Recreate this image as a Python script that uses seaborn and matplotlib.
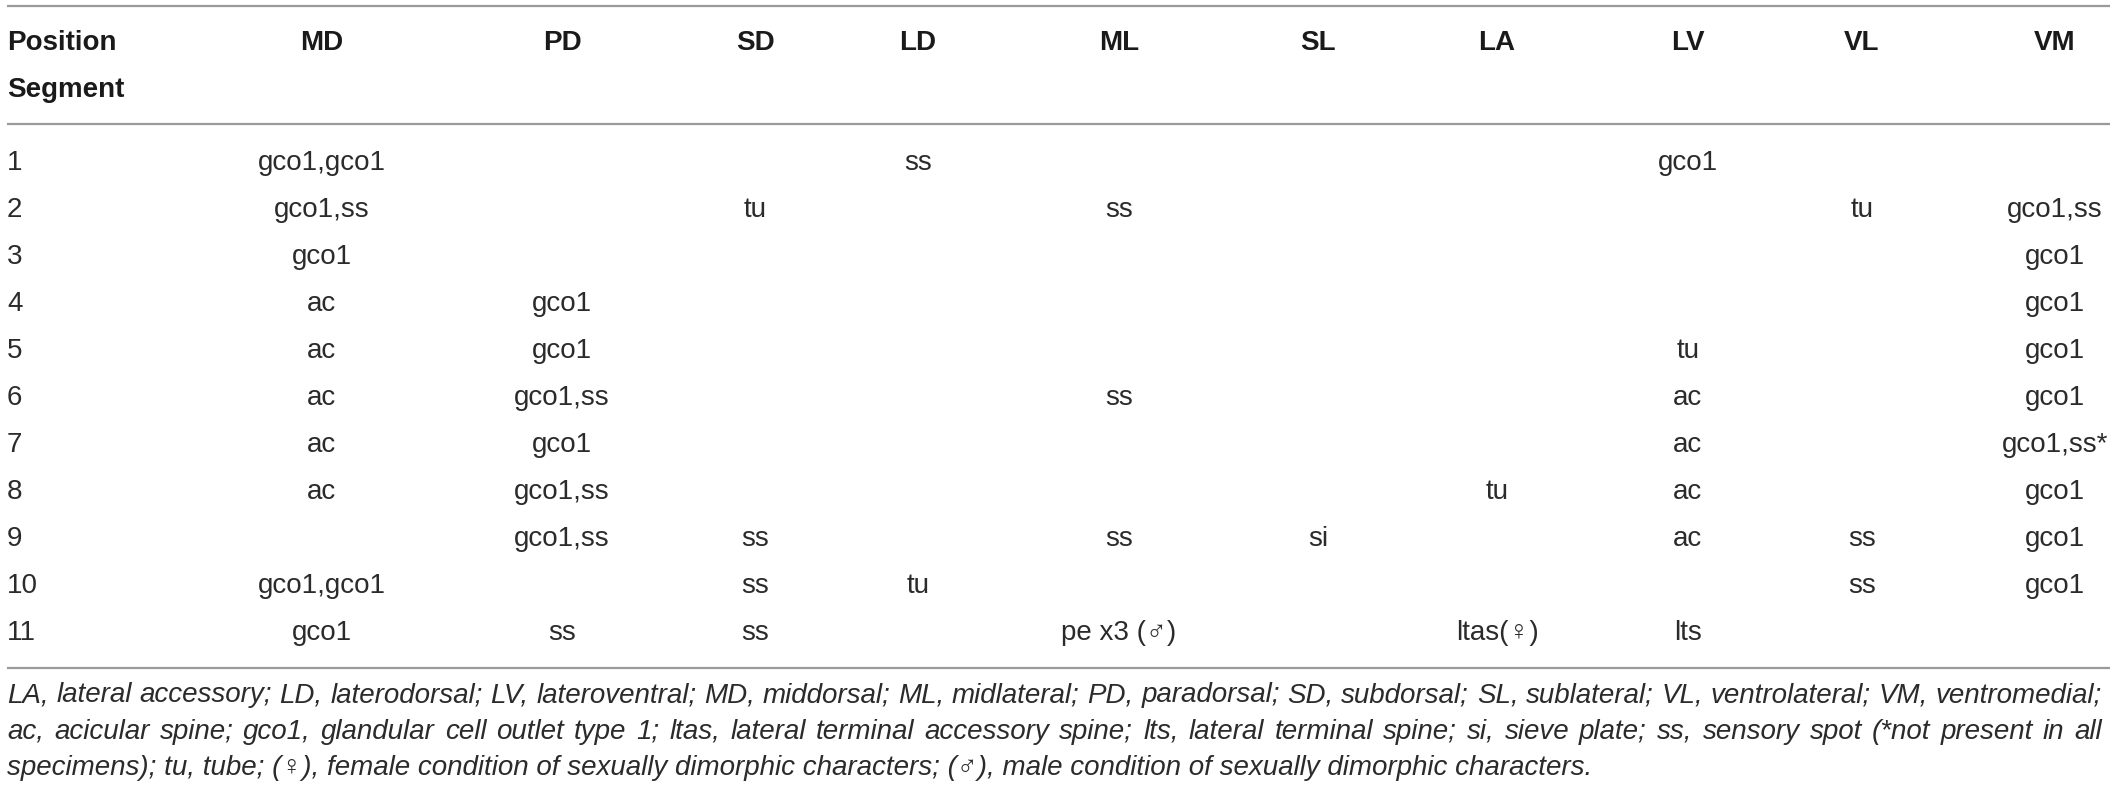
import numpy as np
import pandas as pd
import seaborn as sns
from matplotlib import pyplot as plt

# table content
Columns = ["MD", "PD", "SD", "LD", "ML", "SL", "LA", "LV", "VL", "VM"]
Segments = ["1", "2", "3", "4", "5", "6", "7", "8", "9", "10", "11"]
MD = ["gco1,gco1", "gco1,ss", "gco1", "ac", "ac", "ac", "ac", "ac", "", "gco1,gco1", "gco1"]
PD = ["", "", "", "gco1", "gco1", "gco1,ss", "gco1", "gco1,ss", "gco1,ss", "", "ss"]
SD = ["", "tu", "", "", "", "", "", "", "ss", "ss", "ss"]
LD = ["ss", "", "", "", "", "", "", "", "", "tu", ""]
ML = ["", "ss", "", "", "", "ss", "", "", "ss", "", "pe x3 (\u2642)"]
SL = ["", "", "", "", "", "", "", "", "si", "", ""]
LA = ["", "", "", "", "", "", "", "tu", "", "", "ltas(\u2640)"]
LV = ["gco1", "", "", "", "tu", "ac", "ac", "ac", "ac", "", "lts"]
VL = ["", "tu", "", "", "", "", "", "", "ss", "ss", ""]
VM = ["", "gco1,ss", "gco1", "gco1", "gco1", "gco1", "gco1,ss*", "gco1", "gco1", "gco1", ""]

Footnote = [
    "LA, lateral accessory; LD, laterodorsal; LV, lateroventral; MD, middorsal; ML, midlateral; "
    "PD, paradorsal; SD, subdorsal; SL, sublateral; VL, ventrolateral; VM, ventromedial;",
    "ac, acicular spine; gco1, glandular cell outlet type 1; ltas, lateral terminal accessory spine; "
    "lts, lateral terminal spine; si, sieve plate; ss, sensory spot (*not present in all",
    "specimens); tu, tube; (\u2640), female condition of sexually dimorphic characters; "
    "(\u2642), male condition of sexually dimorphic characters.",
]

df = pd.DataFrame({"MD": MD, "PD": PD, "SD": SD, "LD": LD, "ML": ML, "SL": SL,
                   "LA": LA, "LV": LV, "VL": VL, "VM": VM}, index=Segments)

# layout (pixels)
col_x = [322, 562, 755, 918, 1119, 1318, 1497, 1688, 1862, 2055]
left = 7
right = 2110
row0 = 163
row_step = 47

sns.set_theme(style="white")
fams = ["Liberation Sans", "DejaVu Sans"]
plt.rcParams["font.family"] = fams

fig = plt.figure(figsize=(21.18, 7.93), dpi=100)
ax = fig.add_axes([0, 0, 1, 1])
ax.set_xlim(0, 2118)
ax.set_ylim(793, 0)
ax.axis("off")

line_c = "#9a9a9a"
for y in [6, 124, 668]:
    ax.plot([left, right], [y, y], color=line_c, lw=1.6, solid_capstyle="butt")

head_kw = dict(fontsize=20, fontweight="bold", color="#1a1a1a", va="center")
ax.text(left, 43, "Position", ha="left", **head_kw)
ax.text(left, 90, "Segment", ha="left", **head_kw)
for name, x in zip(Columns, col_x):
    ax.text(x, 43, name, ha="center", **head_kw)

cell_kw = dict(fontsize=20, color="#2b2b2b", va="center")
for i, seg in enumerate(df.index):
    y = row0 + i * row_step
    ax.text(left, y, seg, ha="left", **cell_kw)
    for name, x in zip(Columns, col_x):
        val = df.loc[seg, name]
        if val:
            ax.text(x, y, val, ha="center", **cell_kw)

# footnote, first two lines justified
renderer = fig.canvas.get_renderer()
foot_kw = dict(fontsize=20, style="italic", color="#2b2b2b", va="center")
foot_y = [695, 732, 768]
for k, (txt, y) in enumerate(zip(Footnote, foot_y)):
    if k == len(Footnote) - 1:
        ax.text(left, y, txt, ha="left", **foot_kw)
        continue
    words = txt.split(" ")
    arts = [ax.text(0, y, w, ha="left", **foot_kw) for w in words]
    widths = [a.get_window_extent(renderer).width for a in arts]
    gap = (2102 - left - sum(widths)) / (len(words) - 1)
    x = left
    for a, w in zip(arts, widths):
        a.set_x(x)
        x += w + gap

fig.savefig("out.png", dpi=100, facecolor="white")
